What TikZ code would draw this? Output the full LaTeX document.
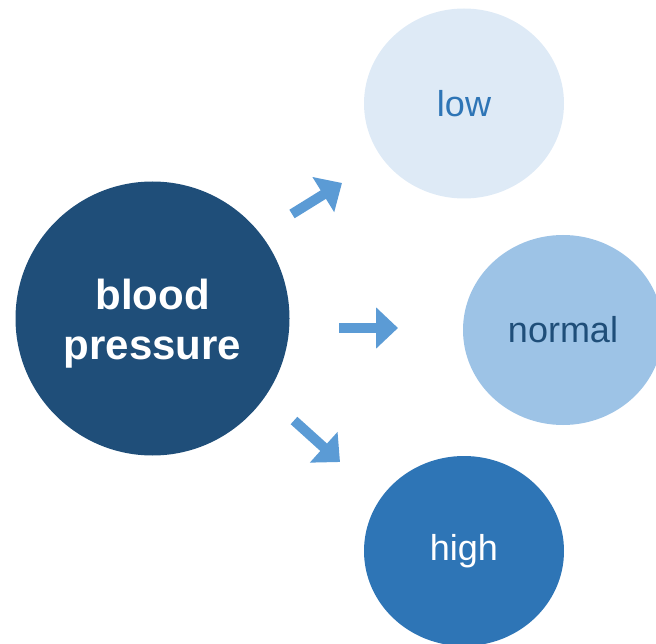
\documentclass[tikz,border=0pt]{standalone}
\usepackage{fontspec}
\setmainfont{Liberation Sans}
\usetikzlibrary{shapes.geometric, arrows.meta}

\definecolor{bpblue}{HTML}{1F4E79}
\definecolor{lowblue}{HTML}{DEEAF6}
\definecolor{midblue}{HTML}{9DC3E6}
\definecolor{highblue}{HTML}{2E75B6}
\definecolor{arrowblue}{HTML}{5B9BD5}

\begin{document}
\begin{tikzpicture}[x=1pt, y=-1pt,
	bubble/.style={ellipse, inner sep=0pt, minimum width=200pt, minimum height=190pt, font=\fontsize{36}{43}\selectfont},
	push/.style={draw=arrowblue, line width=10pt, -{Triangle[width=40pt, length=22pt]}}]
	
	
	\useasboundingbox                 (0,0)    rectangle    (656,644);
	\clip                             (0,0)    rectangle    (656,644);
	
	\node [circle, fill=bpblue, text=white, minimum size=274pt, align=center,
	       font=\fontsize{42}{50}\selectfont\bfseries] (bp) at (152.5,318.5) {\rule{0pt}{40pt}blood\\pressure};
	
	\node [bubble, fill=lowblue,  text=highblue] (low)    at (464,103.5) {low};
	\node [bubble, fill=midblue,  text=bpblue]   (normal) at (563,330)   {normal};
	\node [bubble, fill=highblue, text=white]    (high)   at (464,551)   {high};
	
	\coordinate (lowtail)    at (292,214);
	\coordinate (lowtip)     at (342,183);
	\coordinate (normaltail) at (339,328);
	\coordinate (normaltip)  at (398,328);
	\coordinate (hightail)   at (294,420.5);
	\coordinate (hightip)    at (340,462);
	
	\draw [push] (lowtail)    -- (lowtip);
	\draw [push] (normaltail) -- (normaltip);
	\draw [push] (hightail)   -- (hightip);
	
\end{tikzpicture}
\end{document}
